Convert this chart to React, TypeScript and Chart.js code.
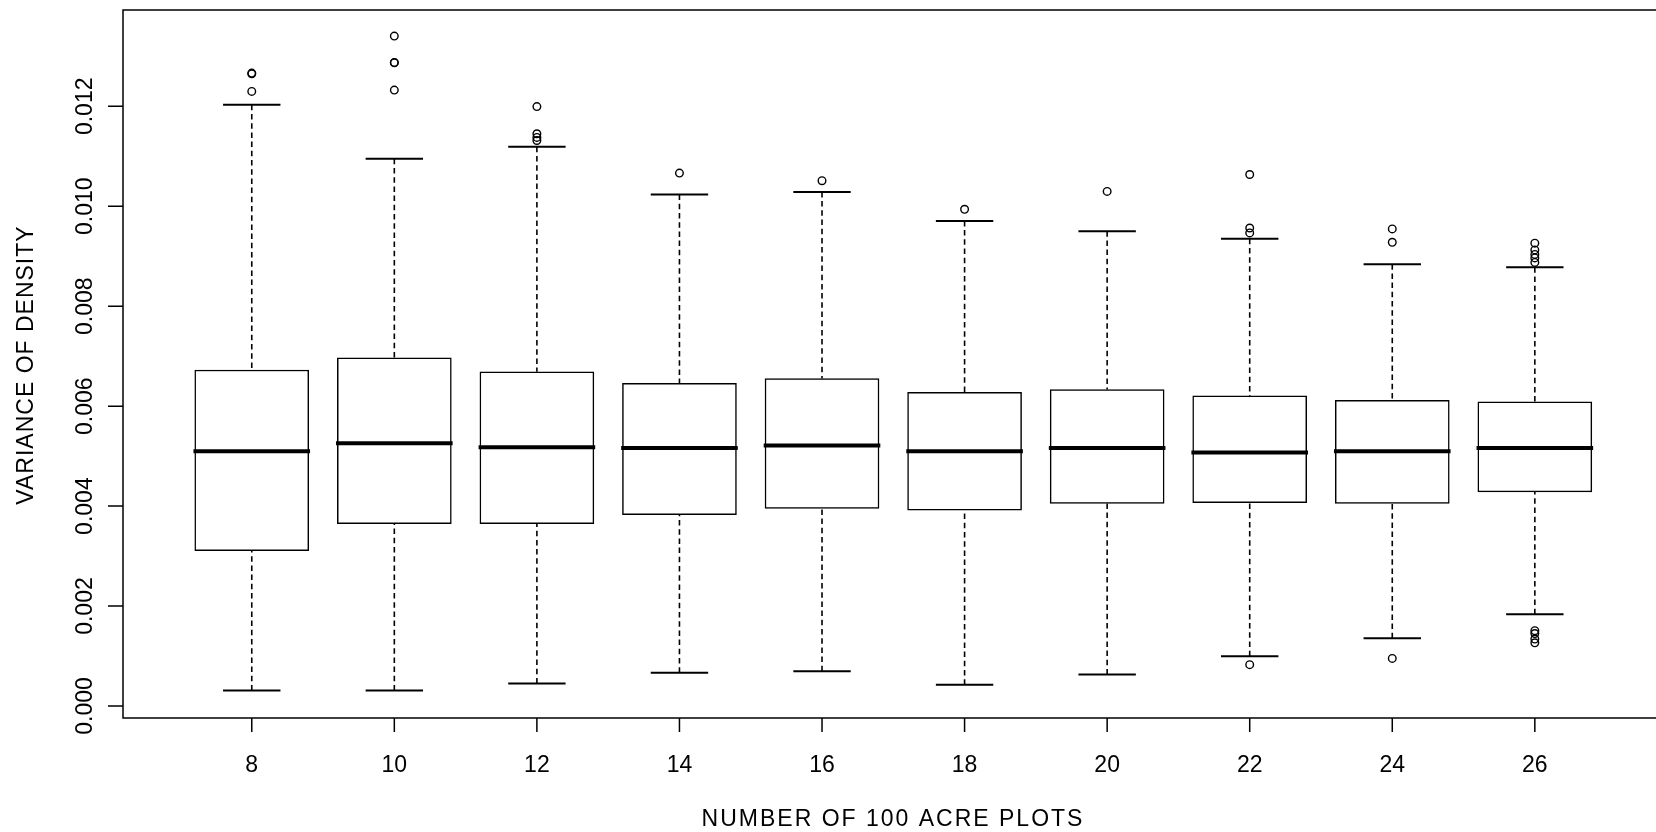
import React, { useEffect, useRef } from "react";
import { Chart, registerables } from "chart.js";

Chart.register(...registerables);

// ---- data ----
const categories = ["8", "10", "12", "14", "16", "18", "20", "22", "24", "26"];
const lowerWhisker = [0.00031, 0.00031, 0.000452, 0.000666, 0.000694, 0.000426, 0.00063, 0.000997, 0.001355, 0.001837];
const q1 = [0.003106, 0.00365, 0.00365, 0.00383, 0.003954, 0.003918, 0.004052, 0.00407, 0.004052, 0.004284];
const medians = [0.005098, 0.005259, 0.005179, 0.005161, 0.005215, 0.005098, 0.005161, 0.005071, 0.005098, 0.005161];
const q3 = [0.006723, 0.006966, 0.006687, 0.006455, 0.006553, 0.006277, 0.006331, 0.006205, 0.006115, 0.006089];
const upperWhisker = [0.01203, 0.01095, 0.01119, 0.010233, 0.010287, 0.009707, 0.009501, 0.00935, 0.00884, 0.008778];
const outliers = [
  [0.012664, 0.01265, 0.012298],
  [0.013405, 0.012878, 0.01287, 0.012324],
  [0.011994, 0.01145, 0.011378, 0.011316],
  [0.010663],
  [0.010511],
  [0.009939],
  [0.010297],
  [0.010635, 0.009565, 0.009467, 0.000828],
  [0.009547, 0.009279, 0.000952],
  [0.009261, 0.009127, 0.009036, 0.008966, 0.008876, 0.001507, 0.00145, 0.00134, 0.001265],
];
const yTicks = [0, 0.002, 0.004, 0.006, 0.008, 0.01, 0.012];
const yTickLabels = ["0.000", "0.002", "0.004", "0.006", "0.008", "0.010", "0.012"];
const xTitle = "NUMBER OF 100 ACRE PLOTS";
const yTitle = "VARIANCE OF DENSITY";

const FONT = '23px "Liberation Sans", Arial, sans-serif';

const framePlugin = {
  id: "rFrame",
  afterDraw(chart: any) {
    const { ctx, chartArea: a } = chart;
    const x = chart.scales.x;
    const y = chart.scales.y;
    ctx.save();
    ctx.strokeStyle = "#000";
    ctx.lineWidth = 1.5;
    ctx.setLineDash([]);
    ctx.beginPath();
    ctx.moveTo(a.right + 10, a.top);
    ctx.lineTo(a.left, a.top);
    ctx.lineTo(a.left, a.bottom);
    ctx.lineTo(a.right + 10, a.bottom);
    yTicks.forEach((v) => {
      const py = y.getPixelForValue(v);
      ctx.moveTo(a.left, py);
      ctx.lineTo(a.left - 15, py);
    });
    categories.forEach((_, i) => {
      const px = x.getPixelForValue(i);
      ctx.moveTo(px, a.bottom);
      ctx.lineTo(px, a.bottom + 14);
    });
    ctx.stroke();

    ctx.fillStyle = "#000";
    ctx.font = FONT;
    ctx.textAlign = "center";
    ctx.textBaseline = "alphabetic";
    // x tick labels
    categories.forEach((c, i) => {
      ctx.fillText(c, x.getPixelForValue(i), 771.5);
    });
    // y tick labels (rotated)
    yTicks.forEach((v, k) => {
      const py = y.getPixelForValue(v);
      ctx.save();
      ctx.translate(91.5, py);
      ctx.rotate(-Math.PI / 2);
      ctx.fillText(yTickLabels[k], 0, 0);
      ctx.restore();
    });
    // titles
    try { (ctx as any).letterSpacing = "2px"; } catch (e) {}
    ctx.fillText(xTitle, 893, 825.5);
    try { (ctx as any).letterSpacing = "1px"; } catch (e) {}
    ctx.save();
    ctx.translate(33.3, 365);
    ctx.rotate(-Math.PI / 2);
    ctx.fillText(yTitle, 0, 0);
    ctx.restore();
    try { (ctx as any).letterSpacing = "0px"; } catch (e) {}
    ctx.restore();
  },
};

export default function App() {
  const ref = useRef<HTMLCanvasElement | null>(null);

  useEffect(() => {
    if (!ref.current) return;

    const whiskerData: any[] = [];
    categories.forEach((_, i) => {
      whiskerData.push({ x: i, y: upperWhisker[i] }, { x: i, y: q3[i] }, { x: i, y: null });
      whiskerData.push({ x: i, y: lowerWhisker[i] }, { x: i, y: q1[i] }, { x: i, y: null });
    });
    const capData: any[] = [];
    categories.forEach((_, i) => {
      capData.push({ x: i, y: upperWhisker[i] }, { x: i, y: lowerWhisker[i] });
    });
    const outlierData: any[] = [];
    outliers.forEach((arr, i) => arr.forEach((v) => outlierData.push({ x: i, y: v })));

    const chart = new Chart(ref.current, {
      type: "bar",
      data: {
        datasets: [
          {
            type: "scatter",
            label: "outliers",
            data: outlierData,
            order: 0,
            pointStyle: "circle",
            pointRadius: 3.8,
            pointBorderWidth: 1.4,
            pointBorderColor: "#000",
            pointBackgroundColor: "rgba(0,0,0,0)",
          } as any,
          {
            type: "scatter",
            label: "caps",
            data: capData,
            order: 1,
            pointStyle: "line",
            pointRadius: 28.7,
            pointBorderWidth: 2,
            pointBorderColor: "#000",
          } as any,
          {
            type: "scatter",
            label: "medians",
            data: medians.map((v, i) => ({ x: i, y: v })),
            order: 2,
            pointStyle: "line",
            pointRadius: 58.3,
            pointBorderWidth: 4,
            pointBorderColor: "#000",
          } as any,
          {
            type: "bar",
            label: "boxes",
            data: categories.map((_, i) => ({ x: i, y: [q1[i], q3[i]] })),
            order: 3,
            backgroundColor: "#ffffff",
            borderColor: "#000",
            borderWidth: 1.5,
            borderSkipped: false,
            barThickness: 114,
            grouped: false,
          } as any,
          {
            type: "line",
            label: "whiskers",
            data: whiskerData,
            order: 4,
            borderColor: "#000",
            borderWidth: 1.6,
            borderDash: [5.5, 3.7],
            pointRadius: 0,
            spanGaps: false,
            tension: 0,
            fill: false,
          } as any,
        ],
      },
      options: {
        responsive: false,
        maintainAspectRatio: false,
        animation: false,
        devicePixelRatio: 1,
        events: [],
        layout: { autoPadding: false, padding: { left: 123, right: 0, top: 10, bottom: 114 } },
        plugins: { legend: { display: false }, tooltip: { enabled: false } },
        scales: {
          x: { type: "linear", display: false, offset: false, min: -0.9032, max: 9.8499 },
          y: { type: "linear", display: false, offset: false, min: -0.00024, max: 0.013927 },
        },
      },
      plugins: [framePlugin],
    } as any);

    return () => chart.destroy();
  }, []);

  return (
    <div style={{ position: "absolute", left: 0, top: 0, width: 1656, height: 832, overflow: "hidden", background: "#fff" }}>
      <canvas ref={ref} width={1656} height={832} style={{ width: 1656, height: 832, display: "block" }} />
    </div>
  );
}
